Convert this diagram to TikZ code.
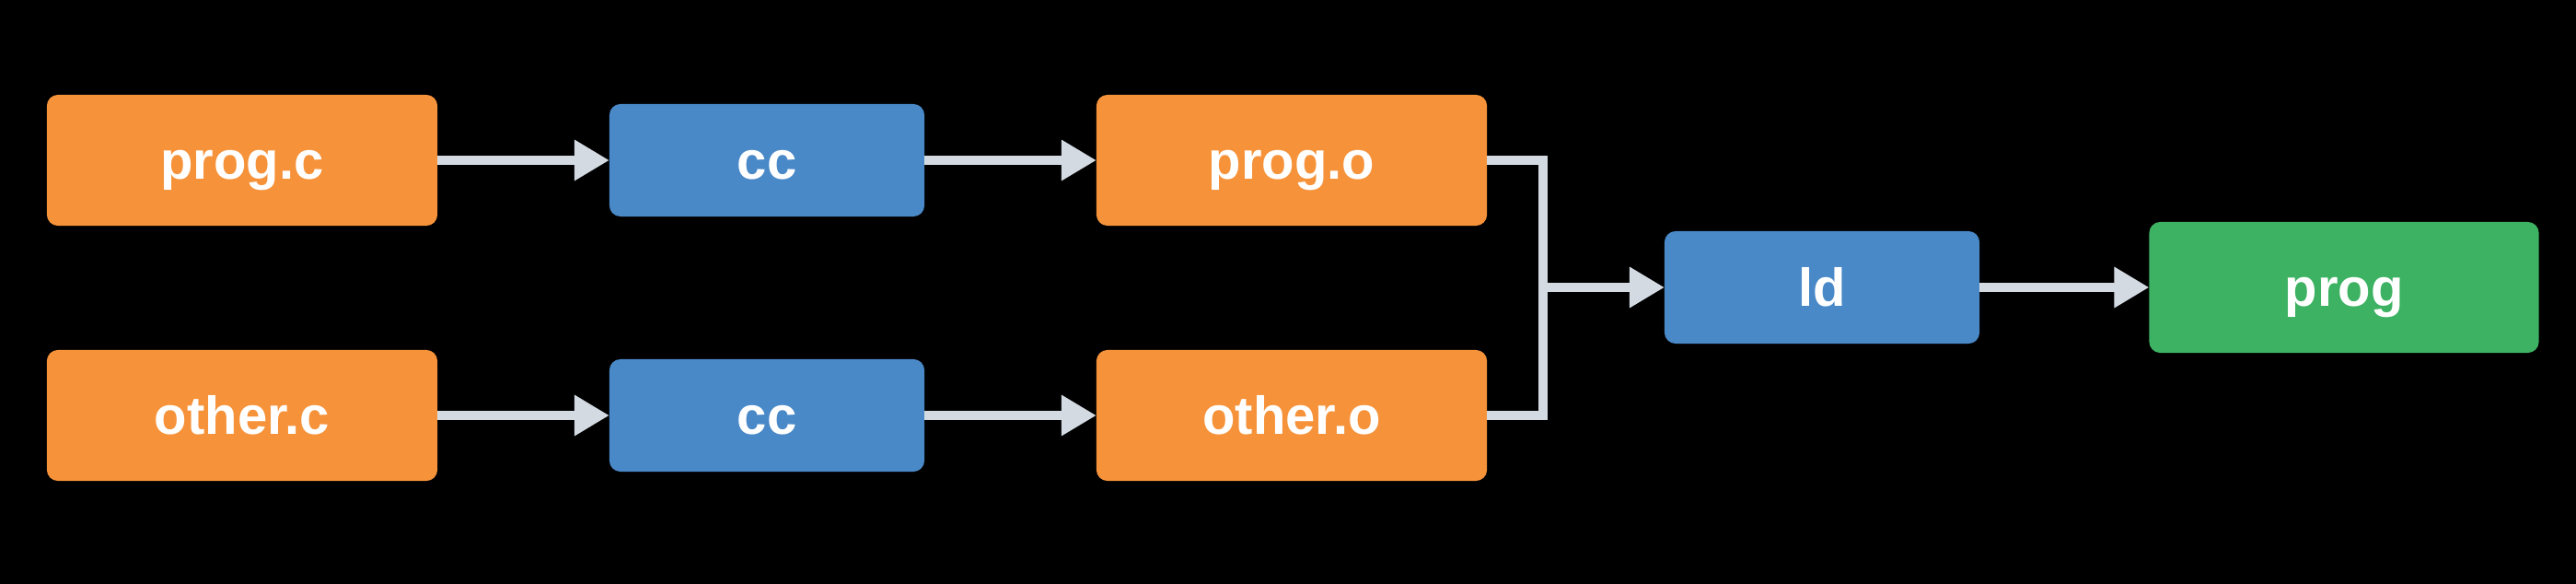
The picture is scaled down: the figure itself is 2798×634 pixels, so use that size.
\documentclass[tikz,border=0pt]{standalone}
\usepackage{fontspec}
\setmainfont{Liberation Sans}
\usetikzlibrary{arrows.meta}

\definecolor{srcorange}{HTML}{F6933A}
\definecolor{toolblue}{HTML}{4A89C8}
\definecolor{exegreen}{HTML}{3DB262}
\definecolor{linkgray}{HTML}{D3DAE2}

\begin{document}
\begin{tikzpicture}[x=0.01cm, y=-0.01cm,
    box/.style={rounded corners=0.12cm, text=white, inner sep=0pt, outer sep=0pt,
        font=\bfseries\fontsize{16.5}{19}\selectfont, text height=0.52cm, text depth=0.12cm,
        minimum height=1.42cm},
    src/.style={box, fill=srcorange, minimum width=4.24cm},
    tool/.style={box, fill=toolblue, minimum width=3.42cm, minimum height=1.22cm},
    exe/.style={box, fill=exegreen, minimum width=4.23cm},
    link/.style={draw, color=linkgray, line width=0.1cm},
    arr/.style={link, -{Triangle[length=0.38cm, width=0.42cm]}}]

            \fill[black] (0,0) rectangle (2798,634);

            \node[src] (progc) at (263,174) {prog.c};
            \node[tool] (cca) at (833,174) {cc};
            \node[src] (progo) at (1403,174) {prog.o};
            \node[src] (otherc) at (263,451) {other.c};
            \node[tool] (ccb) at (833,451) {cc};
            \node[src] (othero) at (1403,451) {other.o};
            \node[tool] (ld) at (1979,312) {ld};
            \node[exe] (prog) at (2546,312) {prog};
            \coordinate (join) at (1676,312);

            \path (progc) edge[arr] (cca);
            \path (cca) edge[arr] (progo);
            \path (otherc) edge[arr] (ccb);
            \path (ccb) edge[arr] (othero);
            \draw[link, line join=miter] (progo.east) -| (join) |- (othero.east);
            \path (join) edge[arr] (ld);
            \path (ld) edge[arr] (prog);

        \end{tikzpicture}
\end{document}
